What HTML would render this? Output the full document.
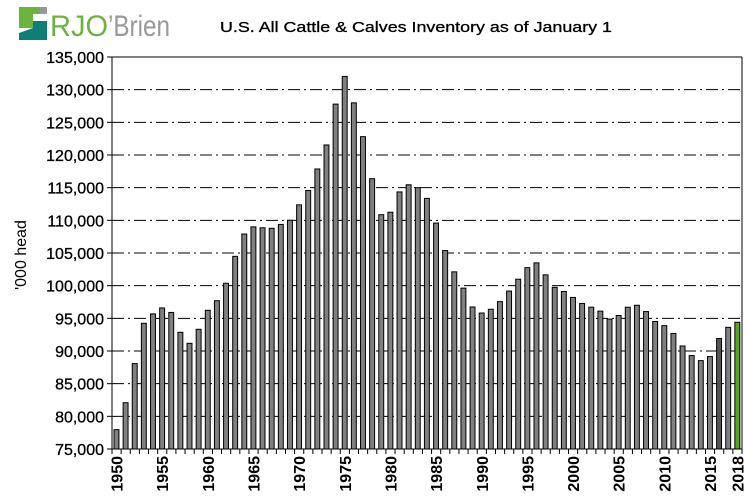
<!DOCTYPE html>
<html><head><meta charset="utf-8"><style>
body{margin:0;background:#fff;width:748px;height:498px;overflow:hidden;font-family:"Liberation Sans",Arial,sans-serif}
</style></head><body>
<svg id="c" width="748" height="498" xmlns="http://www.w3.org/2000/svg">
<g>
<polygon points="19,7 40,7 40,14 33,14 33,28 19,28" fill="#6db33f"/>
<rect x="40" y="7" width="7" height="7" fill="#999"/>
<polygon points="19,33 33,28 33,21 47,21 47,40 19,40" fill="#0e7f74"/>
<text x="50" y="36" font-size="30" fill="#6db33f" textLength="58" lengthAdjust="spacingAndGlyphs">RJO</text>
<text x="108" y="36" font-size="30" fill="#999" textLength="62" lengthAdjust="spacingAndGlyphs">’Brien</text>
</g>
<text x="220" y="32" font-size="15" fill="#000" stroke="#000" stroke-width="0.3" textLength="392" lengthAdjust="spacingAndGlyphs">U.S. All Cattle &amp; Calves Inventory as of January 1</text>
<text transform="translate(26,255) rotate(-90)" text-anchor="middle" font-size="16">'000 head</text>
<g id="grid"></g><g id="bars"></g><g id="axes"></g>
</svg>
<script>
const years=[];for(let y=1950;y<=2018;y++)years.push(y);
const values=[77963,82083,88072,94241,95679,96592,95900,92860,91176,93322,96236,97700,100369,104488,107903,109000,108862,108783,109371,110015,112369,114578,117862,121539,127788,132028,127980,122810,116375,110864,111242,114351,115444,115001,113360,109582,105378,102118,99622,96740,95816,96393,97556,99176,100988,102755,103487,101656,99744,99115,98199,97277,96704,96100,94888,95438,96702,97000,96035,94521,93881,92682,90769,89300,88526,89143,91918,93625,94400];
const yTicks=[75000,80000,85000,90000,95000,100000,105000,110000,115000,120000,125000,130000,135000];
const xLabels=[1950,1955,1960,1965,1970,1975,1980,1985,1990,1995,2000,2005,2010,2015,2018];
const L=112,R=742,T=57,B=449,ymin=75000,ymax=135000;
const yS=v=>B-(v-ymin)/(ymax-ymin)*(B-T);
const step=(R-L)/years.length;
const xS=i=>L+i*step;
const NS="http://www.w3.org/2000/svg";
function mk(t,a,p){const e=document.createElementNS(NS,t);for(const k in a)e.setAttribute(k,a[k]);p.appendChild(e);return e;}
const grid=document.getElementById('grid'),bars=document.getElementById('bars'),axes=document.getElementById('axes');
yTicks.forEach(v=>{const y=yS(v);
 if(v>ymin&&v<ymax){const g=mk('line',{x1:L,x2:R,y1:y,y2:y,stroke:'#000','stroke-width':1,'stroke-dasharray':'12,4,2,4'},grid);
 
 }
 mk('line',{x1:L-5,x2:L,y1:y,y2:y,stroke:'#000'},axes);
 const t=mk('text',{x:L-8,y:y+6,'text-anchor':'end','font-size':'16',stroke:'#000','stroke-width':'0.3'},axes);t.textContent=v.toLocaleString('en-US');
 
 
});
mk('line',{x1:L,x2:R,y1:T,y2:T,stroke:'#000'},axes);
mk('line',{x1:R,x2:R,y1:T,y2:B,stroke:'#000'},axes);
mk('line',{x1:L,x2:L,y1:T,y2:B,stroke:'#000'},axes);
mk('line',{x1:L,x2:R,y1:B,y2:B,stroke:'#000'},axes);
years.forEach((yr,i)=>{
 const x=xS(i)+2,w=step-4.2,y=yS(values[i]);
 const fill=yr===2018?'#5aa51e':(yr===2016?'#555':'#808080');
 const b=mk('rect',{x:x,y:y,width:w,height:B-y,fill:fill,stroke:'#000','stroke-width':1},bars);
 
 
 mk('line',{x1:xS(i),x2:xS(i),y1:B,y2:B+5,stroke:'#000'},axes);
 if(xLabels.includes(yr)){const cx=xS(i)+step/2;
  const t=mk('text',{transform:`translate(${cx+6},${B+7}) rotate(-90)`,'text-anchor':'end','font-size':'16','font-weight':'bold'},axes);t.textContent=yr;
  
  }
});
mk('line',{x1:R,x2:R,y1:B,y2:B+5,stroke:'#000'},axes);
</script>
</body></html>
